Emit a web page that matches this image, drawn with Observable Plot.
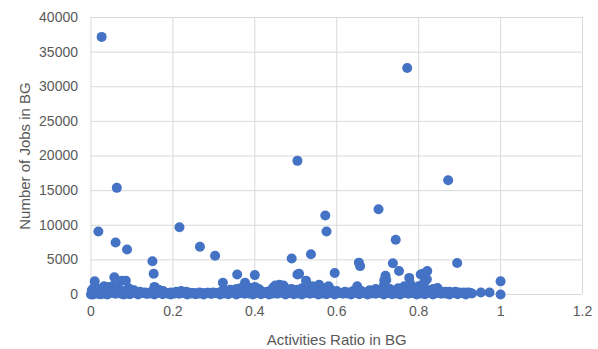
<!DOCTYPE html>
<html><head><meta charset="utf-8">
<script src="https://cdn.jsdelivr.net/npm/d3@7"></script>
<script src="https://cdn.jsdelivr.net/npm/@observablehq/plot@0.6"></script>
<style>body{margin:0;background:#fff}</style>
</head><body><div id="chart"></div>
<script>
// Activities ratio (x) and number of jobs (y) per block group
const ratio = [
  // outliers / visible points
  0.026,0.772,0.504,0.872,0.063,0.572,0.702,0.575,0.744,0.537,0.654,0.657,0.737,0.894,0.752,0.595,
  0.821,0.805,0.815,0.719,0.721,0.777,1.0,1.0,0.973,0.952,
  0.018,0.060,0.088,0.216,0.266,0.303,0.150,0.153,0.357,0.400,0.490,0.504,0.009,0.057,0.075,0.085,
  0.322,0.376,0.508,0.525,0.557,0.540,0.650,0.716,0.810,0.820,0.846,
  // dense band
  0.000,0.002,0.004,0.006,0.008,0.010,0.012,0.015,0.018,0.020,0.024,0.028,0.032,0.035,0.038,0.042,
  0.045,0.048,0.052,0.055,0.058,0.062,0.066,0.070,0.073,0.077,0.082,0.088,0.092,0.096,0.100,0.105,
  0.110,0.115,0.120,0.126,0.132,0.138,0.143,0.150,0.155,0.160,0.165,0.170,0.176,0.182,0.188,0.195,
  0.202,0.208,0.214,0.220,0.226,0.232,0.238,0.245,0.252,0.258,0.265,0.272,0.278,0.285,0.292,0.298,
  0.305,0.312,0.318,0.325,0.330,0.335,0.340,0.345,0.350,0.355,0.360,0.365,0.370,0.375,0.380,0.385,
  0.390,0.395,0.400,0.405,0.410,0.415,0.420,0.425,0.430,0.435,0.440,0.445,0.450,0.455,0.460,0.465,
  0.470,0.475,0.480,0.485,0.490,0.495,0.500,0.505,0.510,0.515,0.520,0.530,0.535,0.545,0.550,0.560,
  0.565,0.570,0.580,0.585,0.590,0.600,0.610,0.620,0.630,0.640,0.655,0.660,0.670,0.680,0.690,0.695,
  0.700,0.710,0.715,0.725,0.730,0.735,0.740,0.750,0.755,0.760,0.765,0.770,0.775,0.780,0.785,0.790,
  0.795,0.800,0.808,0.812,0.825,0.830,0.835,0.840,0.850,0.855,0.860,0.865,0.870,0.875,0.880,0.885,
  0.890,0.895,0.900,0.910,0.920,0.925,
  // points at the bottom of the band
  0.005,0.025,0.040,0.060,0.080,0.095,0.115,0.135,0.155,0.175,0.195,0.215,0.235,0.255,0.275,0.295,
  0.315,0.335,0.355,0.375,0.395,0.415,0.435,0.455,0.475,0.495,0.515,0.535,0.555,0.575,0.595,0.615,
  0.635,0.655,0.675,0.695,0.715,0.735,0.755,0.775,0.795,0.815,0.835,0.855,0.875,0.895,0.915,
  0.012,0.033,0.050,0.070,0.090,0.105,0.125,0.145,0.165,0.185,0.205,0.225,0.245,0.265,0.285,0.305,
  0.325,0.345,0.365,0.385,0.405,0.425,0.445,0.465,0.485,0.505,0.525,0.545,0.565,0.585,0.605,0.625,
  0.645,0.665,0.685,0.705,0.725,0.745,0.765,0.785,0.805,0.825,0.845,0.865,0.885,0.905,0.930
];
const jobs = [
  37200,32700,19300,16500,15400,11400,12300,9100,7900,5800,4600,4100,4500,4550,3400,3100,
  3400,2900,1900,2700,2100,2400,1900,0,300,300,
  9100,7500,6500,9700,6900,5600,4800,3000,2900,2800,5200,2900,1900,2500,2000,2000,
  1700,1700,3000,2000,1400,1200,1200,2050,3000,2200,950,
  0,600,300,900,100,400,1000,200,700,50,300,800,1200,400,100,900,
  1100,300,600,1300,200,700,1000,400,100,500,300,200,900,700,400,600,
  300,150,400,200,300,100,250,500,1100,800,700,300,500,200,100,300,
  200,400,300,500,200,400,300,150,200,100,300,200,150,250,100,300,
  200,250,400,600,500,300,700,400,200,800,500,900,600,1000,1200,700,
  900,400,1100,600,800,500,300,200,400,300,600,1000,1300,800,1400,1100,
  1300,900,700,500,800,600,400,700,300,900,500,600,400,300,600,800,
  500,900,1200,700,300,500,200,400,300,500,400,500,300,600,400,800,
  500,700,1300,600,800,400,400,900,600,700,1200,800,1000,1500,900,700,
  500,1200,900,1600,600,500,800,700,500,400,300,400,300,400,200,300,
  400,200,300,300,300,250,
  0,50,0,100,0,50,0,100,0,50,0,100,0,50,0,100,
  0,50,0,100,0,50,0,100,0,50,0,100,0,50,0,100,
  0,50,0,100,0,50,0,100,0,50,0,100,0,50,0,
  200,150,250,200,150,250,200,150,250,200,150,250,200,150,250,200,
  150,250,200,150,250,200,150,250,200,150,250,200,150,250,200,150,
  250,200,150,250,200,150,250,200,150,250,200,150,250,200,150,200,100
];
const xTicks = [0, 0.2, 0.4, 0.6, 0.8, 1, 1.2];
const yTicks = [0, 5000, 10000, 15000, 20000, 25000, 30000, 35000, 40000];

const data = ratio.map((r, i) => ({ratio: r, jobs: jobs[i]}));

const chart = Plot.plot({
  width: 598,
  height: 349,
  marginLeft: 90.5,
  marginRight: 16,
  marginTop: 17,
  marginBottom: 55,
  style: {fontFamily: "'Liberation Sans', Arial, sans-serif", fontSize: "14px", color: "#595959", background: "#fff"},
  x: {domain: [0, 1.2]},
  y: {domain: [0, 40000]},
  marks: [
    Plot.ruleX(xTicks, {stroke: "#d9d9d9", strokeWidth: 1}),
    Plot.ruleY(yTicks, {stroke: "#d9d9d9", strokeWidth: 1}),
    Plot.axisX({ticks: xTicks, tickSize: 0, tickPadding: 12, tickFormat: d => String(Math.round(d * 10) / 10),
      label: null, fontSize: 14, fill: "#595959"}),
    Plot.axisX({ticks: [], label: "Activities Ratio in BG", labelArrow: "none", labelAnchor: "center", labelOffset: 50, fontSize: 15, fill: "#595959"}),
    Plot.axisY({ticks: yTicks, tickSize: 0, tickPadding: 13, tickFormat: d => String(d),
      label: null, fontSize: 14, fill: "#595959"}),
    Plot.axisY({ticks: [], label: "Number of Jobs in BG", labelArrow: "none", labelAnchor: "center", labelOffset: 72, fontSize: 15, fill: "#595959"}),
    Plot.dot(data, {x: "ratio", y: "jobs", r: 5, fill: "#4472C4", stroke: "none"})
  ]
});
document.getElementById("chart").appendChild(chart);
</script>
</body></html>
